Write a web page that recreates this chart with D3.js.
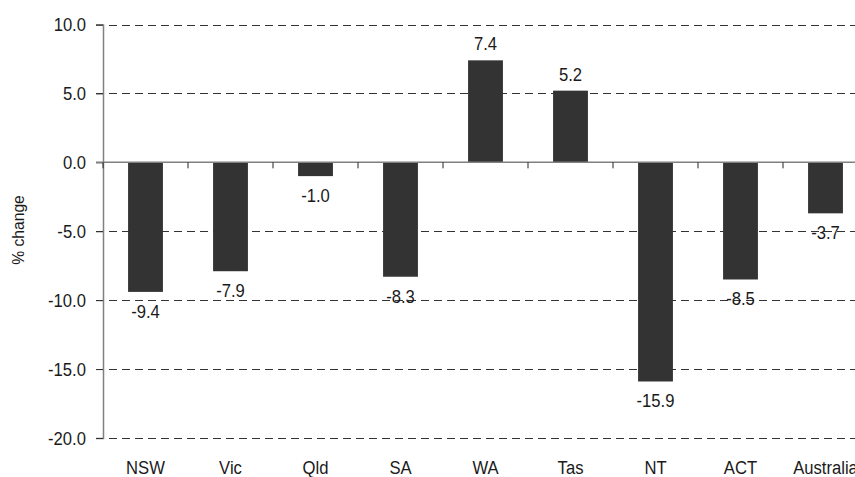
<!DOCTYPE html>
<html><head><meta charset="utf-8">
<script src="https://cdn.jsdelivr.net/npm/d3@7"></script>
<style>
body{margin:0;background:#fff;overflow:hidden}
text{font-family:"Liberation Sans",Arial,sans-serif;fill:#1a1a1a;font-size:18.5px}
</style></head>
<body><svg id="c" width="855" height="477"></svg>
<script>
const categories = ["NSW","Vic","Qld","SA","WA","Tas","NT","ACT","Australia"];
const values = [-9.4,-7.9,-1.0,-8.3,7.4,5.2,-15.9,-8.5,-3.7];
const yTicks = [10,5,0,-5,-10,-15,-20];
const yTitle = "% change";

const svg = d3.select("#c");
const mLeft = 103, mRight = 868, mTop = 24.5, mBottom = 438;
const sx = 0.9;
const x = d3.scaleBand().domain(categories).range([mLeft, mRight]).paddingInner(0.59).paddingOuter(0.295);
const y = d3.scaleLinear().domain([-20, 10]).range([mBottom, mTop]);
const step = x.step();
const fmt = d => d3.format(".1f")(d).replace("−", "-");

function label(g, data, fx, fy, anchor, txt) {
  return g.selectAll("text").data(data).join("text")
    .attr("transform", (d, i) => `translate(${fx(d, i)},${fy(d, i)}) scale(${sx},1)`)
    .attr("text-anchor", anchor)
    .text(txt);
}

// gridlines
svg.append("g").selectAll("line").data(yTicks.filter(d => d !== 0)).join("line")
  .attr("x1", mLeft - 7).attr("x2", mRight)
  .attr("y1", d => Math.round(y(d)) + 0.5).attr("y2", d => Math.round(y(d)) + 0.5)
  .attr("stroke", "#333").attr("stroke-width", 1).attr("stroke-dasharray", "8,5");

// y axis
const yAxis = d3.axisLeft(y).tickValues(yTicks).tickFormat("").tickSize(7);
const gy = svg.append("g").attr("transform", `translate(${mLeft},0)`).call(yAxis);
gy.select(".domain").attr("stroke", "#808080").attr("stroke-width", 1.5);
gy.selectAll(".tick line").attr("stroke", "#333");
label(svg.append("g"), yTicks, () => 86, d => y(d) + 6.5, "end", fmt);

// bars
svg.append("g").selectAll("rect").data(values).join("rect")
  .attr("x", (d, i) => x(categories[i]))
  .attr("width", x.bandwidth())
  .attr("y", d => y(Math.max(0, d)))
  .attr("height", d => Math.abs(y(d) - y(0)))
  .attr("fill", "#333333");

// zero line with category ticks
svg.append("line").attr("x1", mLeft - 7).attr("x2", 855).attr("y1", y(0)).attr("y2", y(0))
  .attr("stroke", "#808080").attr("stroke-width", 1.5);
svg.append("g").selectAll("line").data(categories).join("line")
  .attr("x1", d => x(d) - step * 0.295).attr("x2", d => x(d) - step * 0.295)
  .attr("y1", y(0)).attr("y2", y(0) + 6)
  .attr("stroke", "#222").attr("stroke-width", 1);

// value labels
label(svg.append("g"), values,
  (d, i) => x(categories[i]) + x.bandwidth() / 2,
  d => d >= 0 ? y(d) - 10 : y(d) + 26, "middle", fmt);

// category labels
label(svg.append("g"), categories, d => x(d) + x.bandwidth() / 2, () => 474, "middle", d => d);

// y title
svg.append("text").attr("transform", "translate(24,230) rotate(-90) scale(0.92,1)")
  .attr("text-anchor", "middle").style("font-size", "17px")
  .text(yTitle);
</script></body></html>
